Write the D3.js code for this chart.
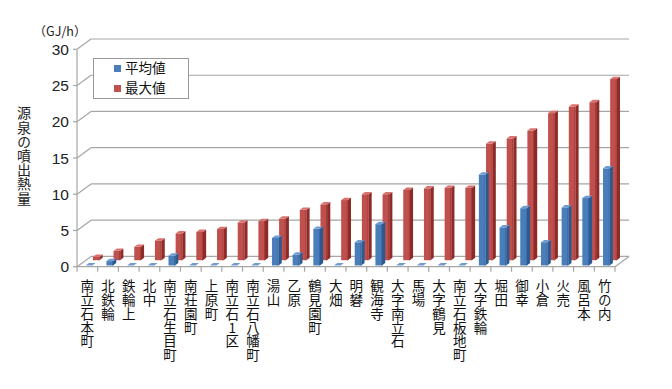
<!DOCTYPE html>
<html><head><meta charset="utf-8">
<script src="https://cdn.jsdelivr.net/npm/d3@7"></script>
<style>html,body{margin:0;padding:0;background:#fff}
.vt{writing-mode:vertical-rl;text-orientation:upright;}</style>
</head><body><svg id="c" width="672" height="389"></svg>
<script>
const categories = ["南立石本町","北鉄輪","鉄輪上","北中","南立石生目町","南荘園町","上原町","南立石1区","南立石八幡町","湯山","乙原","鶴見園町","大畑","明礬","観海寺","大字南立石","馬場","大字鶴見","南立石板地町","大字鉄輪","堀田","御幸","小倉","火売","風呂本","竹の内"];
const avgValues = [0,0.6,0,0,1.35,0,0,0,0,3.8,1.5,5.05,0,3.2,5.7,0,0,0,0,12.55,5.25,7.9,3.2,8.0,9.3,13.4];
const maxValues = [0.45,1.3,1.85,2.7,3.7,3.9,4.3,5.2,5.4,5.75,6.95,7.7,8.3,9.1,9.1,9.7,9.9,10.0,10.0,16.1,16.8,17.9,20.3,21.2,21.8,25.0];
const yTicks = [0,5,10,15,20,25,30];
const seriesNames = ["平均値","最大値"];

const svg = d3.select("#c");
const X0 = 77, X1 = 615;
const DX = 14, DY = -10.3;
const x = d3.scaleBand().domain(categories).range([X0, X1]);
const y = d3.scaleLinear().domain([0, 30]).range([266.7, 49.3]);
const off = t => [DX * t, DY * t];
const grid = "#a6a6a6";
const jp = "'Noto Sans CJK JP','Noto Sans',sans-serif";
const num = "'Liberation Sans',Arial,sans-serif";

yTicks.forEach(v => {
  const yf = y(v), [bx, by] = off(1);
  svg.append("line").attr("x1", X0).attr("y1", yf).attr("x2", X0 + bx).attr("y2", yf + by)
    .attr("stroke", grid).attr("stroke-width", 1.2);
  svg.append("line").attr("x1", X0 + bx).attr("y1", yf + by).attr("x2", X1 + bx).attr("y2", yf + by)
    .attr("stroke", grid).attr("stroke-width", 1.2);
});
svg.append("line").attr("x1", X1).attr("y1", y(0)).attr("x2", X1 + DX).attr("y2", y(0) + DY)
  .attr("stroke", grid).attr("stroke-width", 1.2);
svg.append("line").attr("x1", X0).attr("y1", y(30)).attr("x2", X0).attr("y2", y(0))
  .attr("stroke", grid).attr("stroke-width", 1.2);
svg.append("line").attr("x1", X0).attr("y1", y(0)).attr("x2", X1).attr("y2", y(0))
  .attr("stroke", grid).attr("stroke-width", 1.2);
yTicks.forEach(v => {
  svg.append("line").attr("x1", X0 - 4).attr("x2", X0).attr("y1", y(v)).attr("y2", y(v))
    .attr("stroke", grid).attr("stroke-width", 1.2);
  svg.append("text").attr("x", 69).attr("y", y(v) + 5.5).attr("text-anchor", "end")
    .attr("font-family", num).attr("font-size", 15.5).attr("fill", "#222").text(v);
});
const bounds = categories.map(c => x(c)).concat([X1]);
bounds.forEach(bx => {
  svg.append("line").attr("x1", bx).attr("x2", bx).attr("y1", y(0)).attr("y2", y(0) + 5)
    .attr("stroke", grid).attr("stroke-width", 1.2);
});

function bar(cat, v, t0, t1, cols) {
  const w = 6.6;
  const [ox, oy] = off(t0);
  const [dx, dy] = [DX * (t1 - t0), DY * (t1 - t0)];
  const cx = x(cat) + x.bandwidth() / 2 + ox;
  const xl = cx - w / 2, xr = cx + w / 2;
  const yb = y(0) + oy, yt = y(v) + oy;
  const g = svg.append("g");
  if (v > 0) {
    g.append("path").attr("d", `M${xr},${yb}L${xr + dx},${yb + dy}L${xr + dx},${yt + dy}L${xr},${yt}Z`).attr("fill", cols.side);
    g.append("rect").attr("x", xl).attr("y", yt).attr("width", w).attr("height", yb - yt).attr("fill", cols.front);
    g.append("line").attr("x1", xr - 0.5).attr("x2", xr - 0.5).attr("y1", yt).attr("y2", yb).attr("stroke", cols.edge).attr("stroke-width", 1);
  }
  g.append("path").attr("d", `M${xl},${yt}L${xr},${yt}L${xr + dx},${yt + dy}L${xl + dx},${yt + dy}Z`).attr("fill", cols.top);
}
const redCols = {front: "#c0504d", side: "#8e2b29", top: "#d9726f", edge: "#a23c39"};
const blueCols = {front: "#4a7ebb", side: "#2c5a8f", top: "#6f9bd2", edge: "#3a6aa5"};
categories.forEach((c, i) => bar(c, maxValues[i], 0.63, 0.86, redCols));
categories.forEach((c, i) => bar(c, avgValues[i], 0.12, 0.35, blueCols));

categories.forEach(c => {
  const cx = x(c) + x.bandwidth() / 2;
  svg.append("text").attr("class", "vt").attr("x", cx).attr("y", 279)
    .attr("font-family", jp).attr("font-size", 13.5).attr("letter-spacing", 0.4)
    .attr("fill", "#111").text(c);
});

svg.append("text").attr("x", 60).attr("y", 36).attr("text-anchor", "middle")
  .attr("font-family", jp).attr("font-size", 12.5).attr("fill", "#222").text("（GJ/h）");
svg.append("text").attr("class", "vt").attr("x", 24).attr("y", 106)
  .attr("font-family", jp).attr("font-size", 14).attr("letter-spacing", 0.2)
  .attr("fill", "#222").text("源泉の噴出熱量");

svg.append("rect").attr("x", 93.5).attr("y", 58.5).attr("width", 95).attr("height", 40)
  .attr("fill", "#fff").attr("stroke", "#999").attr("stroke-width", 1);
[["#4a7ebb", 68.5], ["#c0504d", 88.5]].forEach(([col, cy], i) => {
  svg.append("rect").attr("x", 114).attr("y", cy - 3.5).attr("width", 7).attr("height", 7).attr("fill", col);
  svg.append("text").attr("x", 125).attr("y", cy + 4.8).attr("font-family", jp).attr("font-size", 13.5)
    .attr("fill", "#111").text(seriesNames[i]);
});
</script></body></html>
